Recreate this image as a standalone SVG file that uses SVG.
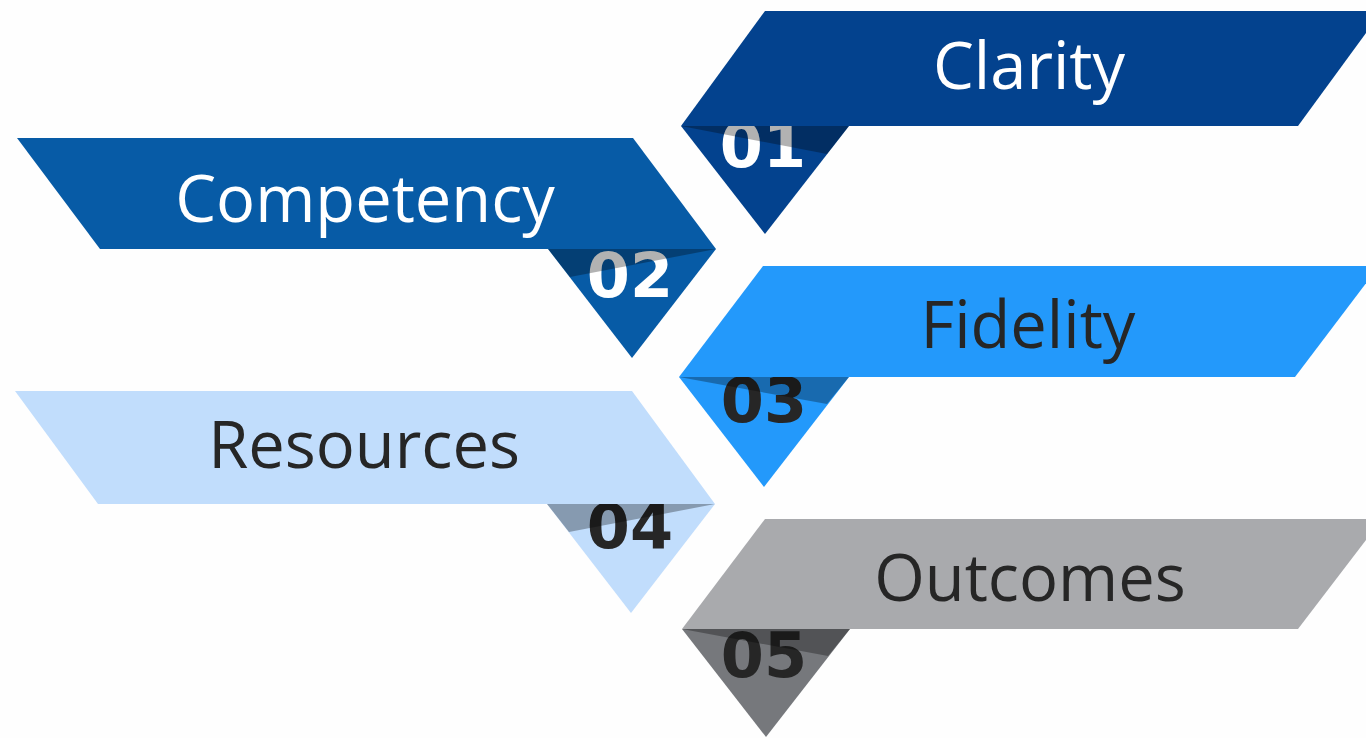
<svg xmlns="http://www.w3.org/2000/svg" width="1366" height="738" viewBox="0 0 1366 738">
<style>
.lbl{font-family:"Open Sans","Noto Sans","Liberation Sans",sans-serif;font-size:65px;text-anchor:middle}
.num{font-family:"DejaVu Sans","Liberation Sans",sans-serif;font-weight:bold;font-size:62px;text-anchor:middle}
.shadow{fill:#000;fill-opacity:0.3}
.w{fill:#ffffff}
.d{fill:#262626}
</style>
<rect x="0" y="0" width="1366" height="738" fill="#fefefe"/>
<g id="node-01-clarity">
<polygon points="681,126 849,126 765,234" fill="#03428e"/>
<text class="num w" x="763" y="167">01</text>
<polygon class="shadow" points="681,126 849,126 827,154"/>
<polygon points="765,11 1382,11 1298,126 681,126" fill="#03428e"/>
<text class="lbl w" x="1029" y="89">Clarity</text>
</g>
<g id="node-02-competency">
<polygon points="548,249 716,249 632,358" fill="#075ba6"/>
<text class="num w" x="630" y="297">02</text>
<polygon class="shadow" points="548,249 716,249 570,277"/>
<polygon points="17,138 633,138 716,249 100,249" fill="#075ba6"/>
<text class="lbl w" x="365" y="222">Competency</text>
</g>
<g id="node-03-fidelity">
<polygon points="679,377 849,377 764,487" fill="#2399fb"/>
<text class="num d" x="764" y="422">03</text>
<polygon class="shadow" points="679,377 849,377 827,404"/>
<polygon points="763,266 1379,266 1295,377 679,377" fill="#2399fb"/>
<text class="lbl d" x="1028" y="348">Fidelity</text>
</g>
<g id="node-04-resources">
<polygon points="547,504 715,504 631,613" fill="#c1ddfc"/>
<text class="num d" x="630" y="548">04</text>
<polygon class="shadow" points="547,504 715,504 569,532"/>
<polygon points="15,391 632,391 715,504 98,504" fill="#c1ddfc"/>
<text class="lbl d" x="364" y="468">Resources</text>
</g>
<g id="node-05-outcomes">
<polygon points="682,629 850,629 766,737" fill="#76787c"/>
<text class="num d" x="764" y="677">05</text>
<polygon class="shadow" points="682,629 850,629 828,656"/>
<polygon points="765,519 1382,519 1298,629 682,629" fill="#a9aaad"/>
<text class="lbl d" x="1030" y="601">Outcomes</text>
</g>
<g id="connectors"></g>
</svg>
